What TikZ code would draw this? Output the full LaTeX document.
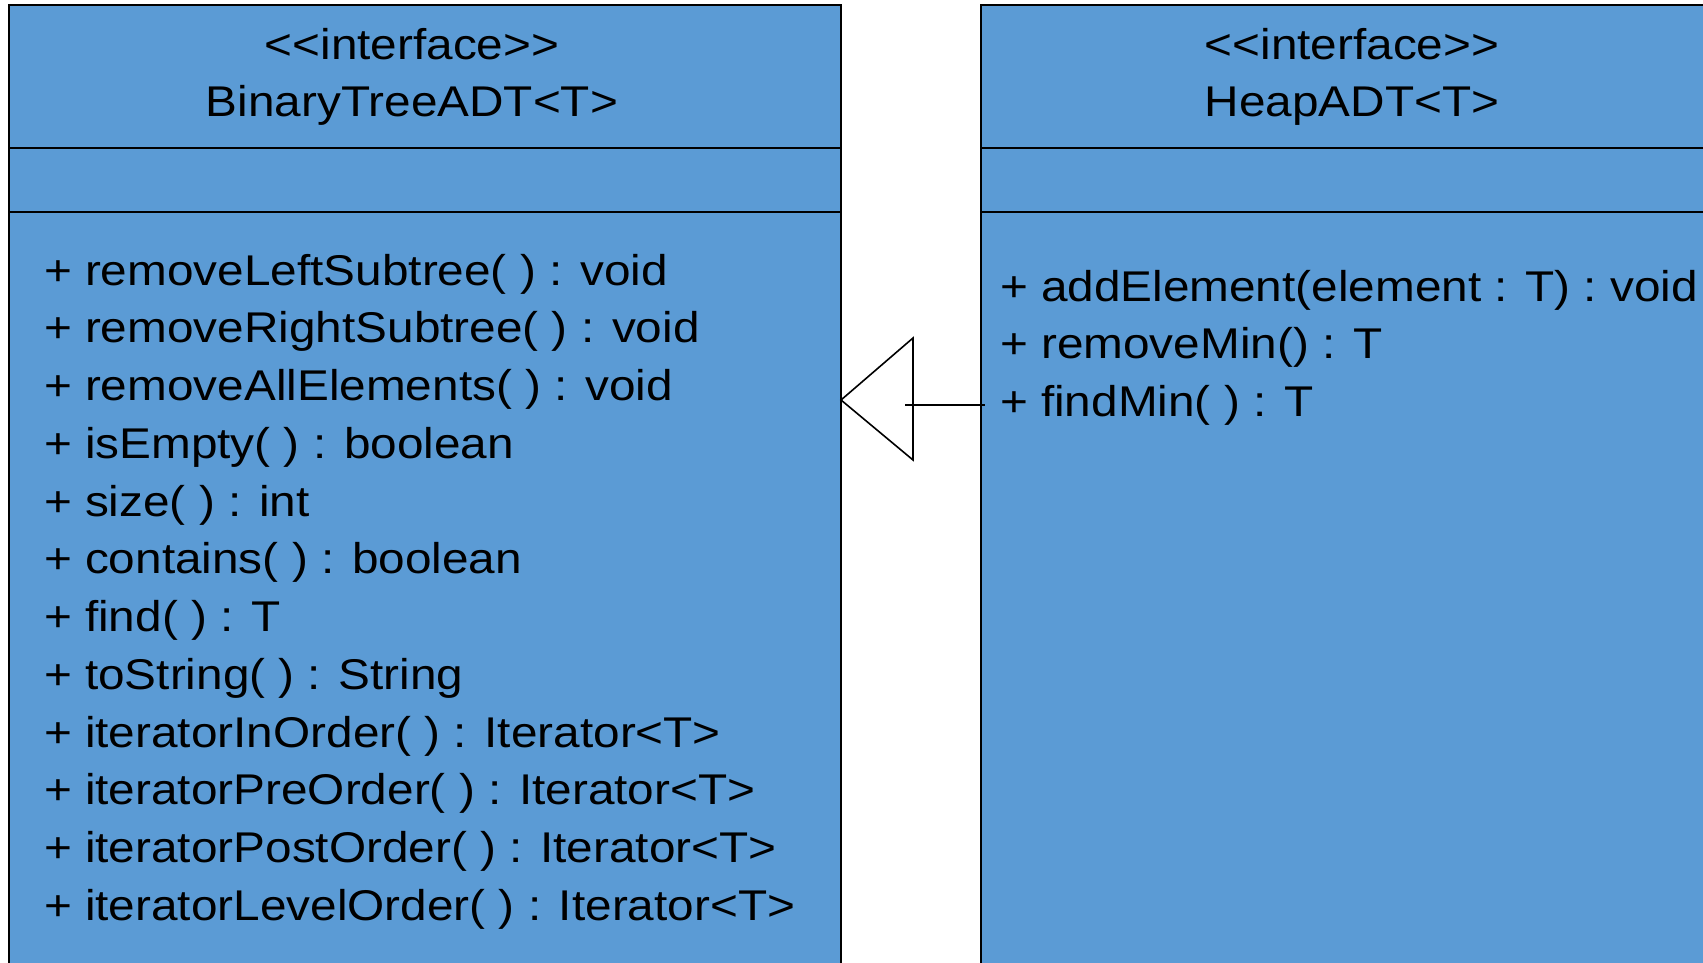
\documentclass[tikz,border=0pt]{standalone}
\usepackage{fontspec}
\setmainfont[FakeStretch=1.11]{Liberation Sans}
\definecolor{umlblue}{RGB}{91,155,213}
\begin{document}
\begin{tikzpicture}[x=1bp,y=-1bp,
  umlbox/.style={draw=black, line width=2.2bp, fill=umlblue, anchor=north west, inner sep=0pt, outer sep=0pt},
  sepline/.style={draw=black, line width=2.2bp},
  txt/.style={inner sep=0pt, outer sep=0pt, font=\fontsize{43bp}{50bp}\selectfont, text=black},
  assoc/.style={draw=black, line width=1.6bp}]
\useasboundingbox (0,0) rectangle (1703,962);
\clip (0,0) rectangle (1703,962);
\fill[white] (0,0) rectangle (1703,962);
% boxes
\node[umlbox, minimum width=832bp, minimum height=1000bp] (bt) at (9,5) {};
\node[umlbox, minimum width=800bp, minimum height=1000bp] (heap) at (981,5) {};
% compartment separators
\draw[sepline] (bt.west |- 0,148) -- (bt.east |- 0,148);
\draw[sepline] (bt.west |- 0,212) -- (bt.east |- 0,212);
\draw[sepline] (heap.west |- 0,148) -- (heap.east |- 0,148);
\draw[sepline] (heap.west |- 0,212) -- (heap.east |- 0,212);
% headers
\node[txt, anchor=base] (btst) at (412,59) {{<}{<}interface{>}{>}};
\node[txt, anchor=base] (btname) at (412,116) {BinaryTreeADT<T>};
\node[txt, anchor=base] (hst) at (1352,59) {{<}{<}interface{>}{>}};
\node[txt, anchor=base] (hname) at (1352,116) {HeapADT<T>};
% BinaryTreeADT operations
\node[txt, anchor=base west] (b1) at (44,285.0) {+ removeLeftSubtree( ) : void};
\node[txt, anchor=base west] (b2) at (44,342.8) {+ removeRightSubtree( ) : void};
\node[txt, anchor=base west] (b3) at (44,400.5) {+ removeAllElements( ) : void};
\node[txt, anchor=base west] (b4) at (44,458.3) {+ isEmpty( ) : boolean};
\node[txt, anchor=base west] (b5) at (44,516.0) {+ size( ) : int};
\node[txt, anchor=base west] (b6) at (44,573.8) {+ contains( ) : boolean};
\node[txt, anchor=base west] (b7) at (44,631.6) {+ find( ) : T};
\node[txt, anchor=base west] (b8) at (44,689.3) {+ toString( ) : String};
\node[txt, anchor=base west] (b9) at (44,747.1) {+ iteratorInOrder( ) : Iterator<T>};
\node[txt, anchor=base west] (b10) at (44,804.8) {+ iteratorPreOrder( ) : Iterator<T>};
\node[txt, anchor=base west] (b11) at (44,862.6) {+ iteratorPostOrder( ) : Iterator<T>};
\node[txt, anchor=base west] (b12) at (44,920.4) {+ iteratorLevelOrder( ) : Iterator<T>};
% HeapADT operations
\node[txt, anchor=base west] (h1) at (1000,301) {+ addElement(element : T) : void};
\node[txt, anchor=base west] (h2) at (1000,358.5) {+ removeMin() : T};
\node[txt, anchor=base west] (h3) at (1000,416) {+ findMin( ) : T};
% generalization arrow
\coordinate (tip) at (bt.east |- 0,400);
\coordinate (tipbase) at (913,400);
\coordinate (tailstart) at (905,405);
\coordinate (tailend) at ([xshift=4bp]heap.west |- 0,405);
\draw[assoc, line join=miter] (tip) -- ([yshift=-60bp]tipbase) -- ([yshift=62bp]tipbase) -- cycle;
\draw[assoc] (tailstart) -- (tailend);
\end{tikzpicture}
\end{document}
